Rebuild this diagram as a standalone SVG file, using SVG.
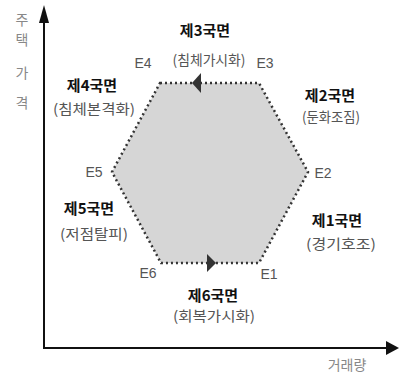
<svg xmlns="http://www.w3.org/2000/svg" width="402" height="376" viewBox="0 0 402 376">
<style>
.t{font-family:"Noto Sans CJK KR","Noto Sans",sans-serif;text-anchor:middle}
.b{font-size:15px;font-weight:bold;fill:#111}
.p{font-size:14px;fill:#555}
.e{font-family:"Liberation Sans","Noto Sans",sans-serif;font-size:14px;fill:#555;text-anchor:middle}
.ax{stroke:#111;stroke-width:2;fill:none}
.hx{fill:#d6d6d6;stroke:#333;stroke-width:2.5;stroke-dasharray:2 3}
</style>
<rect width="402" height="376" fill="#fff"/>
<g id="axes">
<line class="ax" x1="44" y1="348" x2="44" y2="18"/>
<polygon points="44,5 39,23 49,23" fill="#111"/>
<line class="ax" x1="43" y1="348" x2="388" y2="348"/>
<polygon points="399,348 386,341 386,355" fill="#111"/>
</g>
<g id="y-label" class="t" style="font-size:14px;fill:#888">
<text x="22" y="25">주</text>
<text x="22" y="45">택</text>
<text x="22" y="78">가</text>
<text x="22" y="108">격</text>
</g>
<text id="x-label" class="t" x="347" y="370" style="font-size:14px;fill:#888">거래량</text>
<g id="hexagon">
<polygon class="hx" points="160,83 259,83 308,172 259,263 161,263 112,172"/>
</g>
<g id="connectors">
<polygon points="192,83 201,73 201,93" fill="#333"/>
<polygon points="216,263 207,254 207,272" fill="#333"/>
</g>
<g id="E1"><text class="e" x="269" y="279">E1</text></g>
<g id="E2"><text class="e" x="323" y="178">E2</text></g>
<g id="E3"><text class="e" x="265" y="68">E3</text></g>
<g id="E4"><text class="e" x="143" y="68">E4</text></g>
<g id="E5"><text class="e" x="94" y="177">E5</text></g>
<g id="E6"><text class="e" x="148" y="278">E6</text></g>
<g id="q1"><text class="t b" x="337" y="226">제1국면</text><text class="t p" x="341" y="249" textLength="70" lengthAdjust="spacingAndGlyphs">(경기호조)</text></g>
<g id="q2"><text class="t b" x="330" y="101">제2국면</text><text class="t p" x="331" y="122" textLength="58" lengthAdjust="spacingAndGlyphs">(둔화조짐)</text></g>
<g id="q3"><text class="t b" x="205" y="36">제3국면</text><text class="t p" x="209" y="65" textLength="73" lengthAdjust="spacingAndGlyphs">(침체가시화)</text></g>
<g id="q4"><text class="t b" x="92" y="91">제4국면</text><text class="t p" x="94" y="114" textLength="82" lengthAdjust="spacingAndGlyphs">(침체본격화)</text></g>
<g id="q5"><text class="t b" x="89" y="214">제5국면</text><text class="t p" x="94" y="239" textLength="68" lengthAdjust="spacingAndGlyphs">(저점탈피)</text></g>
<g id="q6"><text class="t b" x="213" y="301">제6국면</text><text class="t p" x="214" y="321" textLength="82" lengthAdjust="spacingAndGlyphs">(회복가시화)</text></g>
</svg>
